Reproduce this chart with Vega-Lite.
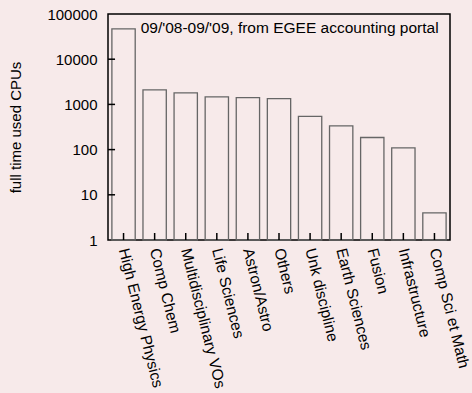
{
  "$schema": "https://vega.github.io/schema/vega-lite/v6.json",
  "autosize": {"type": "none"},
  "width": 342,
  "height": 226,
  "padding": {"left": 108, "top": 14, "right": 22, "bottom": 153},
  "background": "#f7eaea",
  "config": {
    "font": "Liberation Sans",
    "view": {"stroke": "#000000", "strokeWidth": 1.5, "fill": "#f7eaea"},
    "axis": {"grid": false, "domain": false, "ticks": false, "labelColor": "#000000", "titleColor": "#000000", "labelFont": "Liberation Sans", "titleFont": "Liberation Sans"}
  },
  "data": {
    "values": [
      {"discipline": "High Energy Physics", "cpus": 47000},
      {"discipline": "Comp Chem", "cpus": 2100},
      {"discipline": "Multidisciplinary VOs", "cpus": 1790},
      {"discipline": "Life Sciences", "cpus": 1460},
      {"discipline": "Astron/Astro", "cpus": 1410},
      {"discipline": "Others", "cpus": 1340},
      {"discipline": "Unk discipline", "cpus": 546},
      {"discipline": "Earth Sciences", "cpus": 334},
      {"discipline": "Fusion", "cpus": 185},
      {"discipline": "Infrastructure", "cpus": 109},
      {"discipline": "Comp Sci et Math", "cpus": 4}
    ]
  },
  "encoding": {
    "x": {
      "field": "discipline",
      "type": "nominal",
      "sort": null,
      "scale": {"paddingInner": 0.25, "paddingOuter": 0.125},
      "axis": {"title": null, "labelAngle": 76, "labelFontSize": 15.5, "labelPadding": 8, "labelAlign": "left", "labelBaseline": "middle", "labelLimit": 300}
    }
  },
  "layer": [
    {
      "mark": {"type": "bar", "fill": "transparent", "stroke": "#666666", "strokeWidth": 1.3},
      "encoding": {
        "y": {
          "field": "cpus",
          "type": "quantitative",
          "scale": {"type": "log", "domain": [1, 100000], "nice": false},
          "axis": {"title": "full time used CPUs", "values": [1, 10, 100, 1000, 10000, 100000], "format": "d", "labelFontSize": 15, "labelPadding": 11, "titleFontSize": 15, "titleFontWeight": "normal", "titlePadding": 23}
        },
        "y2": {"datum": 1}
      }
    },
    {
      "mark": {"type": "tick", "orient": "vertical", "size": 7, "thickness": 1.5, "color": "#000000", "opacity": 1},
      "encoding": {
        "y": {"datum": 1.195}
      }
    },
    {
      "data": {"values": [
        {"discipline": "High Energy Physics", "v": 10},
        {"discipline": "High Energy Physics", "v": 100},
        {"discipline": "High Energy Physics", "v": 1000},
        {"discipline": "High Energy Physics", "v": 10000}
      ]},
      "mark": {"type": "tick", "orient": "horizontal", "size": 7, "thickness": 1.5, "color": "#000000", "opacity": 1, "xOffset": -12},
      "encoding": {
        "x": {"field": "discipline", "type": "nominal", "sort": null},
        "y": {"field": "v", "type": "quantitative"}
      }
    },
    {
      "data": {"values": [{"label": "09/'08-09/'09, from EGEE accounting portal", "discipline": "Comp Chem", "cpus": 100000}]},
      "mark": {"type": "text", "align": "left", "baseline": "alphabetic", "dx": -14, "dy": 19, "fontSize": 15.5, "font": "Liberation Sans", "color": "#000000"},
      "encoding": {
        "y": {"field": "cpus", "type": "quantitative"},
        "text": {"field": "label"}
      }
    }
  ]
}
